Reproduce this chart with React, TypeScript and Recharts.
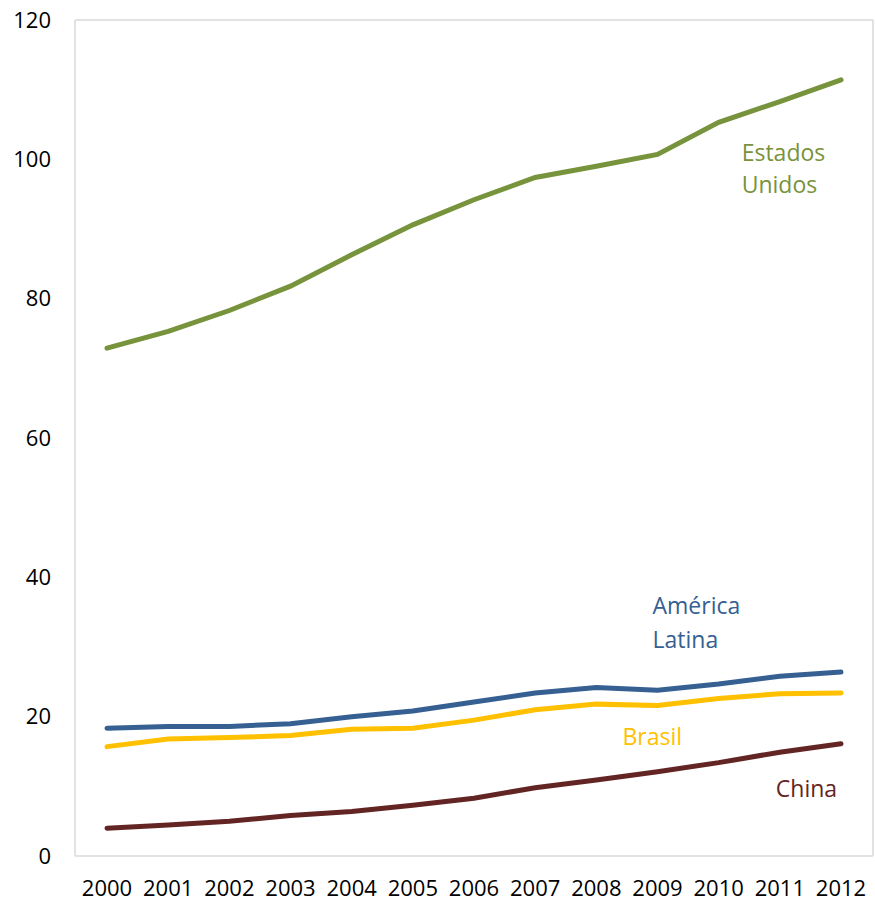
import React from "react";
import { LineChart, Line, XAxis, YAxis, ReferenceDot } from "recharts";

const years = ["2000","2001","2002","2003","2004","2005","2006","2007","2008","2009","2010","2011","2012"];
const estadosUnidos = [72.9, 75.3, 78.3, 81.8, 86.3, 90.6, 94.2, 97.4, 99.0, 100.7, 105.3, 108.3, 111.4];
const americaLatina = [18.35, 18.6, 18.6, 19.0, 20.0, 20.8, 22.1, 23.4, 24.2, 23.8, 24.7, 25.8, 26.4];
const brasil = [15.7, 16.8, 17.0, 17.3, 18.2, 18.35, 19.5, 21.0, 21.8, 21.6, 22.6, 23.3, 23.4];
const china = [4.0, 4.45, 5.0, 5.8, 6.4, 7.3, 8.3, 9.8, 10.9, 12.1, 13.4, 14.9, 16.1];
const yTicks = [0, 20, 40, 60, 80, 100, 120];

const colors = {
  eu: "#77933C",
  al: "#366092",
  br: "#FFC000",
  cn: "#632523",
};

// annotations: text lines, anchored at a category and a value (baseline of first line)
const annotations = [
  { lines: ["Estados", "Unidos"], year: "2010", value: 99.7, dx: 23, lineGap: 31.6, color: colors.eu },
  { lines: ["América", "Latina"], year: "2009", value: 34.7, dx: -5, lineGap: 34, color: colors.al },
  { lines: ["Brasil"], year: "2009", value: 15.9, dx: -35, lineGap: 0, color: colors.br },
  { lines: ["China"], year: "2011", value: 8.5, dx: -4, lineGap: 0, color: colors.cn },
];

const data = years.map((y, i) => ({
  year: y,
  eu: estadosUnidos[i],
  al: americaLatina[i],
  br: brasil[i],
  cn: china[i],
}));

const FONT = "'Open Sans', 'Noto Sans', sans-serif";
const BORDER = "#D9D9D9";

export default function App() {
  return (
    <div style={{ position: "absolute", left: 0, top: 0 }}>
      <LineChart
        width={875}
        height={903}
        data={data}
        margin={{ top: 19, right: 1, bottom: 0, left: 0 }}
        style={{ fontFamily: FONT }}
      >
        <XAxis
          dataKey="year"
          height={47}
          padding={{ left: 32, right: 32 }}
          axisLine={{ stroke: BORDER, strokeWidth: 1.5 }}
          tickLine={false}
          tickSize={0}
          tickMargin={24}
          interval={0}
          tick={{ fill: "#000", fontSize: 22, fontFamily: FONT }}
        />
        <XAxis
          xAxisId="top"
          dataKey="year"
          orientation="top"
          height={1}
          padding={{ left: 32, right: 32 }}
          axisLine={{ stroke: BORDER, strokeWidth: 1.5 }}
          tickLine={false}
          tick={false}
        />
        <YAxis
          domain={[0, 120]}
          ticks={yTicks}
          width={75}
          axisLine={{ stroke: BORDER, strokeWidth: 1.5 }}
          tickLine={false}
          tickSize={0}
          tickMargin={24}
          tick={{ fill: "#000", fontSize: 22, fontFamily: FONT }}
        />
        <YAxis
          yAxisId="right"
          orientation="right"
          domain={[0, 120]}
          ticks={yTicks}
          width={1}
          axisLine={{ stroke: BORDER, strokeWidth: 1.5 }}
          tickLine={false}
          tick={false}
        />
        <Line type="linear" dataKey="eu" stroke={colors.eu} strokeWidth={5} dot={false} strokeLinecap="round" isAnimationActive={false} />
        <Line type="linear" dataKey="al" stroke={colors.al} strokeWidth={5} dot={false} strokeLinecap="round" isAnimationActive={false} />
        <Line type="linear" dataKey="br" stroke={colors.br} strokeWidth={5} dot={false} strokeLinecap="round" isAnimationActive={false} />
        <Line type="linear" dataKey="cn" xAxisId="top" yAxisId="right" stroke={colors.cn} strokeWidth={5} dot={false} strokeLinecap="round" isAnimationActive={false} />
        {annotations.map((a) => (
          <ReferenceDot
            key={a.lines.join(" ")}
            x={a.year}
            y={a.value}
            r={0}
            ifOverflow="visible"
            shape={(props: any) => (
              <text
                x={props.cx + a.dx}
                y={props.cy}
                fill={a.color}
                fontSize={23}
                fontFamily={FONT}
                textAnchor="start"
              >
                {a.lines.map((l, i) => (
                  <tspan key={i} x={props.cx + a.dx} dy={i === 0 ? 0 : a.lineGap}>
                    {l}
                  </tspan>
                ))}
              </text>
            )}
          />
        ))}
      </LineChart>
    </div>
  );
}
